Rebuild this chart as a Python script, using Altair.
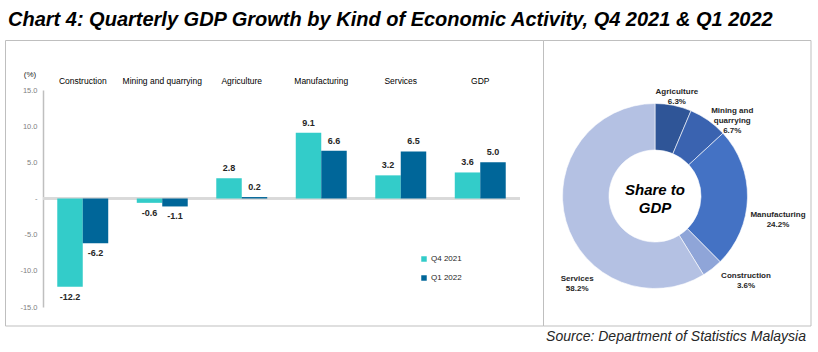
import altair as alt
import pandas as pd

# ---------------- data ----------------
categories = ["Construction", "Mining and quarrying", "Agriculture", "Manufacturing", "Services", "GDP"]
series = ["Q4 2021", "Q1 2022"]
q4_2021 = [-12.2, -0.6, 2.8, 9.1, 3.2, 3.6]
q1_2022 = [-6.2, -1.1, 0.2, 6.6, 6.5, 5.0]
y_ticks = [-15, -10, -5, 0, 5, 10, 15]

share_sectors = ["Agriculture", "Mining and quarrying", "Manufacturing", "Construction", "Services"]
share_labels = ["Agriculture", "Mining and\nquarrying", "Manufacturing", "Construction", "Services"]
share_pct = [6.3, 6.7, 24.2, 3.6, 58.2]

title_text = "Chart 4: Quarterly GDP Growth by Kind of Economic Activity, Q4 2021 & Q1 2022"
source_text = "Source: Department of Statistics Malaysia"
center_text = ["Share to", "GDP"]

# ---------------- tables ----------------
rows = []
for c, a, b in zip(categories, q4_2021, q1_2022):
    rows.append({"category": c, "series": series[0], "value": a})
    rows.append({"category": c, "series": series[1], "value": b})
bars_df = pd.DataFrame(rows)

share_df = pd.DataFrame({
    "sector": share_sectors,
    "label": share_labels,
    "share": share_pct,
    "order": list(range(len(share_sectors))),
})
total_share = float(sum(share_pct))

# ---------------- layout helpers ----------------
OX, OY = 43, 90          # plot-area origin in page pixels
W, H = 477, 217          # plot-area size


def px(x):
    return x - OX


def py(y):
    return y - OY


bar_colors = ["#33CCC9", "#006699"]
pie_colors = ["#2F5597", "#3A63B0", "#4472C4", "#8FA5D8", "#B4C1E3"]

base = alt.Chart(bars_df).transform_calculate(
    lbl="replace(format(datum.value, '.1f'), '\u2212', '-')"
)

y_axis = alt.Axis(values=y_ticks, title=None, grid=False, ticks=False,
                  labelOverlap=False, labelBound=False, labelFlush=False,
                  labelExpr="datum.value == 0 ? '-' : replace(format(datum.value, '.1f'), '\u2212', '-')",
                  labelFontSize=7.5, labelFont="Liberation Sans",
                  labelColor="#7F7F7F", labelPadding=6,
                  domainColor="#BFBFBF", domainWidth=1.5)
y_scale = alt.Scale(domain=[-15, 15], nice=False, zero=False)

x_enc = alt.X("category:N", sort=categories,
              scale=alt.Scale(paddingInner=0, paddingOuter=0),
              axis=alt.Axis(orient="top", title=None, domain=False, ticks=False, tickSize=0,
                            labelPadding=5, labelAngle=0, labelFontSize=8.5,
                            labelFont="Liberation Sans", labelColor="#000000"))
xoff_enc = alt.XOffset("series:N", sort=series,
                       scale=alt.Scale(paddingOuter=0.56, paddingInner=0))
y_enc = alt.Y("value:Q", scale=y_scale, axis=y_axis)

bars = base.mark_bar().encode(
    x=x_enc, xOffset=xoff_enc, y=y_enc, y2=alt.datum(0),
    color=alt.Color("series:N", sort=series,
                    scale=alt.Scale(domain=series, range=bar_colors),
                    legend=alt.Legend(title=None, orient="none",
                                      legendX=px(420), legendY=py(255),
                                      symbolType="square", symbolSize=30,
                                      symbolStrokeWidth=0,
                                      labelFontSize=8, labelFont="Liberation Sans",
                                      labelColor="#262626", rowPadding=11,
                                      labelOffset=3)),
)

zero_line = base.mark_rule(color="#D9D9D9", strokeWidth=2).encode(
    y=alt.Y(datum=0, scale=y_scale, axis=y_axis), x=alt.value(0), x2=alt.value(W)
)

pos_labels = base.transform_filter("datum.value >= 0").mark_text(
    dy=-10, fontSize=9, fontWeight="bold", font="Liberation Sans", color="#262626"
).encode(x=x_enc, xOffset=xoff_enc, y=y_enc, text="lbl:N")

neg_labels = base.transform_filter("datum.value < 0").mark_text(
    dy=10, fontSize=9, fontWeight="bold", font="Liberation Sans", color="#262626"
).encode(x=x_enc, xOffset=xoff_enc, y=y_enc, text="lbl:N")

anchor = pd.DataFrame({"a": [0]})

pct_label = alt.Chart(anchor).mark_text(
    text="(%)", fontSize=8, font="Liberation Sans", color="#262626"
).encode(x=alt.value(px(30)), y=alt.value(py(75)))

# ---------------- donut ----------------
CX, CY = px(655), py(196)
pie_base = alt.Chart(share_df)
donut = pie_base.mark_arc(radius=92.5, radius2=46, stroke="white", strokeWidth=0.6).encode(
    theta=alt.Theta("share:Q", stack=True, scale=alt.Scale(domain=[0, total_share])),
    order=alt.Order("order:Q"),
    color=alt.Color("sector:N", scale=alt.Scale(domain=share_sectors, range=pie_colors),
                    legend=None),
    x=alt.value(CX), y=alt.value(CY),
)

center = alt.Chart(anchor).mark_text(
    text=center_text, fontSize=15, fontWeight="bold", fontStyle="italic",
    font="Liberation Sans", color="#000000", lineHeight=18, baseline="middle"
).encode(x=alt.value(CX), y=alt.value(py(190)))

label_offsets = {
    "Agriculture": (0, 4),
    "Mining and quarrying": (14, 5),
    "Manufacturing": (13, 17),
    "Construction": (23, -6),
    "Services": (28, 53),
}

pie_labels = []
for sec in share_sectors:
    dx, dy = label_offsets[sec]
    lay = pie_base.transform_window(
        cum="sum(share)", sort=[alt.SortField("order")]
    ).transform_calculate(
        mid="datum.cum - datum.share / 2",
        txt="datum.label + '\\n' + format(datum.share, '.1f') + '%'",
    ).transform_filter(alt.datum.sector == sec).mark_text(
        radius=110, dx=dx, dy=dy, fontSize=8, fontWeight="bold",
        font="Liberation Sans", color="#262626", lineBreak="\n", lineHeight=10,
        baseline="middle", align="center",
    ).encode(
        theta=alt.Theta("mid:Q", stack=None, scale=alt.Scale(domain=[0, total_share])),
        text="txt:N",
        x=alt.value(CX), y=alt.value(CY),
    )
    pie_labels.append(lay)

# ---------------- frames & texts ----------------
frame_left = alt.Chart(anchor).mark_rect(
    fill=None, stroke="#BFBFBF", strokeWidth=1
).encode(x=alt.value(px(5.5)), x2=alt.value(px(543.5)),
         y=alt.value(py(40.5)), y2=alt.value(py(326)))
frame_right = alt.Chart(anchor).mark_rect(
    fill=None, stroke="#BFBFBF", strokeWidth=1
).encode(x=alt.value(px(543.5)), x2=alt.value(px(811)),
         y=alt.value(py(40.5)), y2=alt.value(py(326)))

title = alt.Chart(anchor).mark_text(
    text=title_text, fontSize=20, fontWeight="bold", fontStyle="italic",
    font="Liberation Sans", color="#000000", align="left", baseline="middle"
).encode(x=alt.value(px(8)), y=alt.value(py(20)))

source = alt.Chart(anchor).mark_text(
    text=source_text, fontSize=14, fontStyle="italic",
    font="Liberation Sans", color="#262626", align="right", baseline="middle"
).encode(x=alt.value(px(806)), y=alt.value(py(337)))

chart = alt.layer(
    frame_left, frame_right, zero_line, bars, pos_labels, neg_labels, pct_label,
    donut, center, *pie_labels, title, source,
).resolve_scale(
    color="independent", theta="independent"
).properties(
    width=W, height=H,
    autosize=alt.AutoSizeParams(type="none"),
    padding={"left": OX, "top": OY, "right": 818 - OX - W, "bottom": 352 - OY - H},
    background="white",
).configure_view(stroke=None)

chart.save("out.html", embed_options={"renderer": "svg", "actions": False})
